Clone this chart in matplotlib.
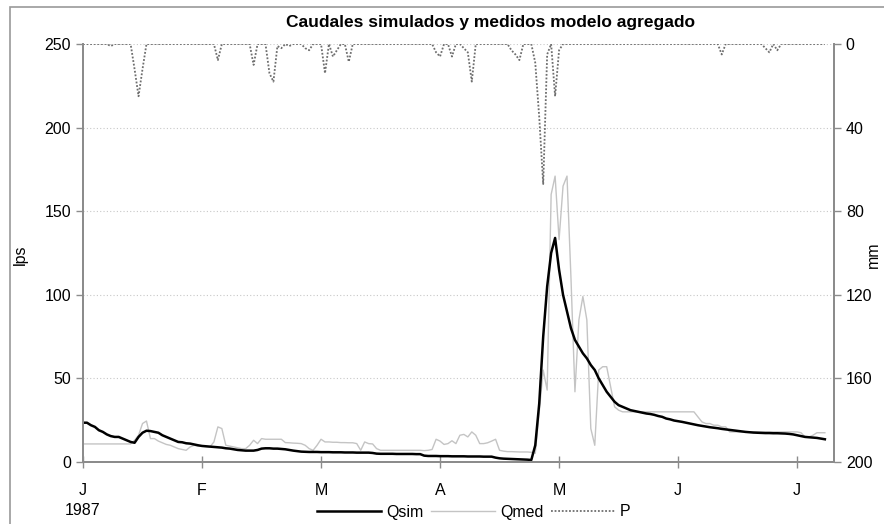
from __future__ import annotations

import matplotlib

matplotlib.use("Agg")
import matplotlib.pyplot as plt
import numpy as np
from matplotlib.patches import Rectangle

plt.rcParams["font.family"] = ["Liberation Sans", "DejaVu Sans"]

TITLE = "Caudales simulados y medidos modelo agregado"
MONTH_LABELS = ["J\n1987", "F", "M", "A", "M", "J", "J"]
MONTH_TICKS = [0, 30, 60, 90, 120, 150, 180]

# caudal simulado (lps), un valor por dia desde 1 ene 1987
QSIM = [
    23.5, 23.5, 22, 21, 19, 18, 16.5, 15.5, 15, 15,
    14, 13, 12, 11.5, 15, 17.5, 18.7, 18.5, 18, 17.5,
    16, 15, 14, 13, 12, 11.8, 11.2, 11, 10.5, 10,
    9.6, 9.4, 9.2, 9, 8.8, 8.6, 8.2, 8, 7.6, 7.2,
    7, 6.8, 6.8, 6.8, 7.2, 8, 8.2, 8.2, 8, 8,
    7.8, 7.6, 7.2, 6.8, 6.5, 6.2, 6.1, 6.0, 6.0, 6.0,
    5.9, 5.9, 5.9, 5.8, 5.8, 5.8, 5.7, 5.7, 5.7, 5.6,
    5.6, 5.6, 5.6, 5.4, 5.0, 4.9, 4.9, 4.9, 4.9, 4.8,
    4.8, 4.8, 4.8, 4.8, 4.7, 4.7, 3.8, 3.6, 3.6, 3.6,
    3.5, 3.5, 3.5, 3.4, 3.4, 3.4, 3.4, 3.3, 3.3, 3.3,
    3.3, 3.2, 3.2, 3.2, 2.6, 2.2, 2.0, 1.9, 1.8, 1.7,
    1.6, 1.5, 1.4, 1.2, 10, 35, 75, 105, 125, 134,
    115, 100, 90, 80, 73, 69, 65, 62, 58, 55,
    50, 46, 42, 39, 36, 34, 33, 32, 31, 30.5,
    30, 29.5, 29, 28.7, 28.2, 27.5, 27, 26, 25.5, 24.8,
    24.4, 24, 23.5, 23, 22.5, 22, 21.6, 21.2, 20.8, 20.5,
    20.2, 19.8, 19.5, 19.2, 18.9, 18.6, 18.3, 18, 17.8, 17.6,
    17.5, 17.4, 17.3, 17.3, 17.2, 17.2, 17.1, 17.0, 16.8, 16.5,
    16, 15.5, 15, 14.8, 14.6, 14.4, 14, 13.6,
]

# caudal medido (lps)
QMED = [
    10.8, 10.8, 10.8, 10.8, 10.8, 10.8, 10.8, 10.8, 10.8, 10.8,
    10.8, 10.8, 10.8, 13, 16, 23, 24.5, 14, 14, 12.5,
    11.5, 10.5, 10, 9, 8, 7.5, 7, 9, 10, 9.5,
    9.5, 9.2, 9, 12, 21, 20, 10, 9.5, 9, 8.5,
    8, 8, 10, 13, 11, 14, 13.6, 13.6, 13.6, 13.6,
    13.6, 11.6, 11.5, 11.3, 11.2, 11, 10, 8, 7, 10,
    13.6, 12, 12, 11.8, 11.8, 11.6, 11.6, 11.5, 11.5, 11,
    7, 12, 11, 10.8, 8, 7, 7, 7, 7, 7,
    7, 7, 7, 7, 7, 7, 6.8, 7, 7.5, 13.6,
    12.5, 10.5, 11, 12.7, 11, 16, 16.5, 15, 18, 16,
    11, 11, 11.5, 12.5, 13.6, 7, 6.5, 6.2, 6.2, 6.1,
    6.0, 6.0, 6.0, 5.8, 5.2, 30, 55, 43, 160, 171,
    133, 165, 171, 110, 42, 85, 99, 85, 20, 10,
    55, 57, 57, 45, 33, 31, 30, 30, 30, 30,
    30, 30, 30, 30, 30, 30, 30, 30, 30, 30,
    30, 30, 30, 30, 30, 27, 24, 23, 23, 22,
    22, 21, 21, 18, 18, 18, 18, 18, 18, 18,
    18, 18, 18, 18, 18, 18, 18, 18, 18, 18,
    18, 17.5, 15, 15, 16, 17.5, 17.5, 17.5,
]

# precipitacion (mm)
PREC = [
    0, 0, 0, 0, 0, 0, 0, 1, 0, 0,
    0, 0, 0, 12, 25, 12, 0, 0, 0, 0,
    0, 0, 0, 0, 0, 0, 0, 0, 0, 0,
    0, 0, 0, 0, 7.7, 0, 0, 0, 0, 0,
    0, 0, 0, 10, 0, 0, 0, 14, 18, 1,
    2, 0, 1, 0, 0, 0, 2, 3, 0, 0,
    0, 14, 0, 6, 3, 0, 0, 8.5, 0, 0,
    0, 0, 0, 0, 0, 0, 0, 0, 0, 0,
    0, 0, 0, 0, 0, 0, 0, 0, 0, 4,
    6, 0, 0, 6, 0, 0, 2, 4, 18, 0,
    0, 0, 0, 0, 0, 0, 0, 0, 3, 5,
    7.7, 0, 0, 0, 9, 35, 67, 5, 0, 25,
    3, 0, 0, 0, 0, 0, 0, 0, 0, 0,
    0, 0, 0, 0, 0, 0, 0, 0, 0, 0,
    0, 0, 0, 0, 0, 0, 0, 0, 0, 0,
    0, 0, 0, 0, 0, 0, 0, 0, 0, 0,
    0, 5, 0, 0, 0, 0, 0, 0, 0, 0,
    0, 0, 2, 4, 0, 3, 0, 0, 0, 0,
    0, 0, 0, 0, 0, 0, 0, 0,
]


def main() -> None:
    days = np.arange(len(QSIM))

    fig = plt.figure(figsize=(8.84, 5.24), dpi=100)
    ax = fig.add_axes([83 / 884, 62 / 524, 751 / 884, 418 / 524])
    ax2 = ax.twinx()

    # marco gris del grafico
    fig.patches.append(
        Rectangle((10 / 884, -0.05), 1.0, (524 - 7) / 524 + 0.05,
                  transform=fig.transFigure, fill=False,
                  edgecolor="#9a9a9a", linewidth=1.2)
    )

    l_med, = ax.plot(days, QMED, color="#c4c4c4", linewidth=1.0, label="Qmed")
    l_sim, = ax.plot(days, QSIM, color="black", linewidth=1.8, label="Qsim")
    l_p, = ax2.plot(days, PREC, color="#6e6e6e", linewidth=1.3,
                    linestyle=(0, (1, 1)), label="P")

    ax.set_xlim(0, 189.3)
    ax.set_ylim(0, 250)
    ax.set_yticks(np.arange(0, 251, 50))
    ax2.set_ylim(200, 0)
    ax2.set_yticks(np.arange(0, 201, 40))

    ax.set_xticks(MONTH_TICKS, labels=MONTH_LABELS, linespacing=1.4)

    ax.yaxis.grid(True, linestyle=(0, (1, 2)), color="#c8c8c8", linewidth=0.8)
    ax.set_axisbelow(True)

    for a in (ax, ax2):
        a.spines["top"].set_visible(False)
        for s in ("left", "right", "bottom"):
            a.spines[s].set_color("#8c8c8c")
            a.spines[s].set_linewidth(1.4)
        a.tick_params(colors="#8c8c8c", labelcolor="black", labelsize=11.5,
                      length=5, width=1)
    ax.tick_params(axis="x", direction="inout", length=8, pad=11)

    # rotulos de ejes en posicion fija
    fig.text(20 / 884, 1 - 255 / 524, "lps", rotation=90, ha="center",
             va="center", fontsize=11.5)
    fig.text(873 / 884, 1 - 255 / 524, "mm", rotation=90, ha="center",
             va="center", fontsize=11.5)

    fig.text(490 / 884, 1 - 22 / 524, TITLE, ha="center", va="center",
             fontsize=12.5, fontweight="bold")

    fig.legend([l_sim, l_med, l_p], ["Qsim", "Qmed", "P"],
               loc="center", bbox_to_anchor=(474 / 884, 1 - 512 / 524),
               ncol=3, frameon=False, fontsize=11.5, handlelength=4,
               handletextpad=0.3, columnspacing=0.5, borderpad=0)

    fig.savefig("out.png", dpi=100)
    plt.close(fig)


if __name__ == "__main__":
    main()
